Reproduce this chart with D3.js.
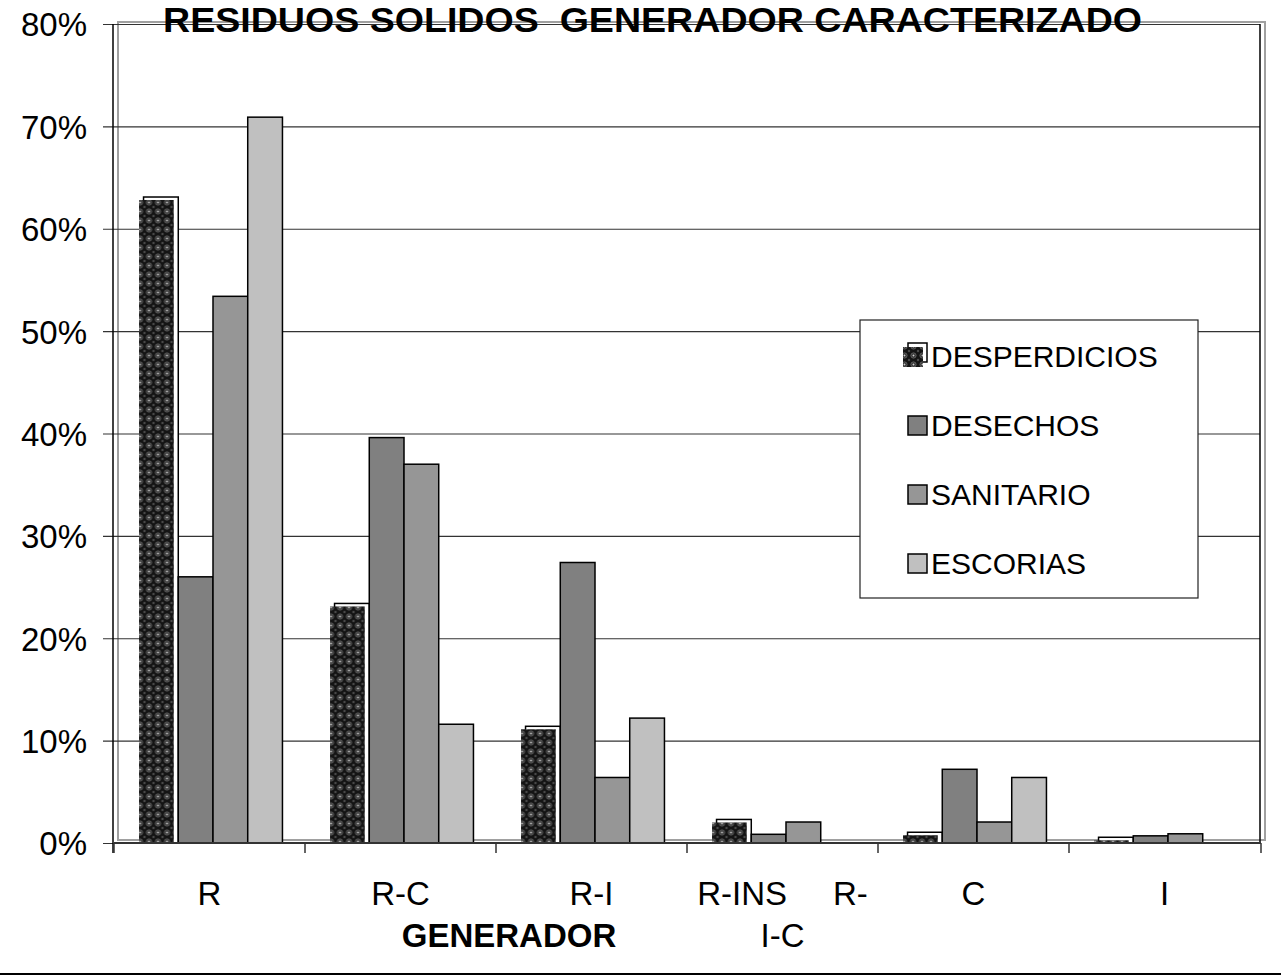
<!DOCTYPE html>
<html>
<head>
<meta charset="utf-8">
<script src="https://cdn.jsdelivr.net/npm/d3@7"></script>
<style>
  html, body { margin: 0; padding: 0; background: #fff; }
  svg { display: block; font-family: "Liberation Sans", Arial, sans-serif; }
</style>
</head>
<body>
<svg id="chart" width="1281" height="976"></svg>
<script>
// ---- data ----
const categories = ["R", "R-C", "R-I", "R-INS R-I-C", "C", "I"];
const categoryLines = [["R"], ["R-C"], ["R-I"], ["R-INS     R-", "I-C"], ["C"], ["I"]];
const seriesNames = ["DESPERDICIOS", "DESECHOS", "SANITARIO", "ESCORIAS"];
const desperdicios = [63.1, 23.4, 11.4, 2.3, 1.05, 0.56];
const desechos     = [26.0, 39.6, 27.4, 0.85, 7.2, 0.7];
const sanitario    = [53.4, 37.0, 6.4, 2.05, 2.05, 0.9];
const escorias     = [70.9, 11.6, 12.2, 0, 6.4, 0];
const yTicks = [0, 10, 20, 30, 40, 50, 60, 70, 80];
const titleText = "RESIDUOS SOLIDOS  GENERADOR CARACTERIZADO";
const xTitle = "GENERADOR";

const seriesValues = [desperdicios, desechos, sanitario, escorias];
const fills = ["url(#dots)", "#808080", "#969696", "#c0c0c0"];

const svg = d3.select("#chart");
const W = 1281, H = 976;
const plot = { left: 114, right: 1260, top: 24, bottom: 843 };

// pattern for DESPERDICIOS
const defs = svg.append("defs");
const pat = defs.append("pattern").attr("id", "dots")
  .attr("patternUnits", "userSpaceOnUse").attr("width", 9).attr("height", 9);
pat.append("rect").attr("width", 9).attr("height", 9).attr("fill", "#141414");
pat.append("circle").attr("cx", 4.5).attr("cy", 4.5).attr("r", 2.6)
  .attr("fill", "#2e2e2e").attr("stroke", "#5e5e5e").attr("stroke-width", 1);
pat.append("circle").attr("cx", 4.5).attr("cy", 4.5).attr("r", 1).attr("fill", "#cfcfcf");
pat.append("circle").attr("cx", 0).attr("cy", 0).attr("r", 1.2).attr("fill", "#4a4a4a");
pat.append("circle").attr("cx", 9).attr("cy", 0).attr("r", 1.2).attr("fill", "#4a4a4a");
pat.append("circle").attr("cx", 0).attr("cy", 9).attr("r", 1.2).attr("fill", "#4a4a4a");
pat.append("circle").attr("cx", 9).attr("cy", 9).attr("r", 1.2).attr("fill", "#4a4a4a");

// scales
const y = d3.scaleLinear().domain([0, 80]).range([plot.bottom, plot.top]);
const x0 = d3.scaleBand().domain(categories).range([plot.left, plot.right]).padding(0);
const x1 = d3.scaleBand().domain(seriesNames).range([0, x0.bandwidth()])
  .paddingInner(0).paddingOuter(0.75);
const barShift = 3.5;

svg.append("rect").attr("width", W).attr("height", H).attr("fill", "#fff");

// outer gray frame of plot area
svg.append("rect")
  .attr("x", 118).attr("y", 22).attr("width", 1147).attr("height", 818)
  .attr("fill", "none").attr("stroke", "#a0a0a0").attr("stroke-width", 2);

// gridlines + y ticks
const yAxis = d3.axisLeft(y).tickValues(yTicks).tickSize(plot.right - plot.left + 11)
  .tickFormat(d => d + "%").tickPadding(17);
const gy = svg.append("g").attr("transform", `translate(${plot.right},0)`).call(yAxis);
gy.select(".domain").remove();
gy.selectAll(".tick line").attr("stroke", "#333").attr("stroke-width", 1.2);
gy.selectAll(".tick text").attr("font-size", 33).attr("fill", "#000")
  .attr("x", -(plot.right - 87)).attr("dy", "0.36em");

// right border black
svg.append("line").attr("x1", plot.right).attr("x2", plot.right)
  .attr("y1", plot.top).attr("y2", plot.bottom).attr("stroke", "#000").attr("stroke-width", 1.5);
// y axis line
svg.append("line").attr("x1", plot.left - 1).attr("x2", plot.left - 1)
  .attr("y1", plot.top).attr("y2", plot.bottom + 10).attr("stroke", "#000").attr("stroke-width", 1.5);

// bars
const groups = svg.append("g").selectAll("g").data(categories).join("g")
  .attr("transform", d => `translate(${x0(d) + barShift},0)`);

seriesNames.forEach((s, si) => {
  groups.each(function (cat, ci) {
    const v = seriesValues[si][ci];
    if (!v) return;
    const g = d3.select(this);
    const bx = x1(s), bw = x1.bandwidth();
    if (si === 0) {
      g.append("rect").attr("x", bx).attr("y", y(v)).attr("width", bw)
        .attr("height", y(0) - y(v)).attr("fill", "#fff").attr("stroke", "#000").attr("stroke-width", 1.5);
      g.append("rect").attr("x", bx - 4.5).attr("y", y(v) + 3).attr("width", bw)
        .attr("height", Math.max(0, y(0) - y(v) - 2)).attr("fill", fills[0]);
    } else {
      g.append("rect").attr("x", bx).attr("y", y(v)).attr("width", bw)
        .attr("height", y(0) - y(v)).attr("fill", fills[si]).attr("stroke", "#000").attr("stroke-width", 1.5);
    }
  });
});

// x axis
svg.append("line").attr("x1", plot.left).attr("x2", plot.right + 1)
  .attr("y1", plot.bottom).attr("y2", plot.bottom).attr("stroke", "#333").attr("stroke-width", 2);
const tickPos = categories.map(c => x0(c)).concat([plot.right + 1]);
svg.append("g").selectAll("line").data(tickPos).join("line")
  .attr("x1", d => d).attr("x2", d => d).attr("y1", plot.bottom).attr("y2", plot.bottom + 10)
  .attr("stroke", "#333").attr("stroke-width", 1.5);

// category labels
const lab = svg.append("g").selectAll("text").data(categories).join("text")
  .attr("text-anchor", "middle").attr("font-size", 33).attr("fill", "#000")
  .style("white-space", "pre")
  .attr("x", d => x0(d) + x0.bandwidth() / 2).attr("y", 905);
lab.each(function (d, i) {
  const t = d3.select(this);
  categoryLines[i].forEach((ln, li) => {
    t.append("tspan").attr("x", x0(d) + x0.bandwidth() / 2)
      .attr("dy", li === 0 ? 0 : 42).text(ln);
  });
});

// x title
svg.append("text").attr("x", 509).attr("y", 947).attr("text-anchor", "middle")
  .attr("font-size", 33).attr("font-weight", "bold").text(xTitle);

// chart title
svg.append("text").attr("x", 163).attr("y", 32)
  .attr("font-size", 35).attr("font-weight", "bold")
  .attr("textLength", 979).attr("lengthAdjust", "spacingAndGlyphs")
  .style("white-space", "pre").text(titleText);

// legend
const leg = svg.append("g");
leg.append("rect").attr("x", 860).attr("y", 320).attr("width", 338).attr("height", 278)
  .attr("fill", "#fff").attr("stroke", "#222").attr("stroke-width", 1.2);
const rowY = d3.scalePoint().domain(seriesNames).range([357, 564]);
seriesNames.forEach((s, i) => {
  const cy = rowY(s);
  if (i === 0) {
    leg.append("rect").attr("x", 908).attr("y", cy - 14).attr("width", 19).attr("height", 19)
      .attr("fill", "#fff").attr("stroke", "#000").attr("stroke-width", 1.5);
    leg.append("rect").attr("x", 903).attr("y", cy - 10).attr("width", 20).attr("height", 20)
      .attr("fill", fills[0]);
  } else {
    leg.append("rect").attr("x", 908).attr("y", cy - 10).attr("width", 19).attr("height", 19)
      .attr("fill", fills[i]).attr("stroke", "#000").attr("stroke-width", 1.5);
  }
  leg.append("text").attr("x", 931).attr("y", cy + 10).attr("font-size", 30).text(s);
});

// bottom frame line
svg.append("line").attr("x1", 0).attr("x2", W).attr("y1", 974).attr("y2", 974)
  .attr("stroke", "#000").attr("stroke-width", 2);
</script>
</body>
</html>
